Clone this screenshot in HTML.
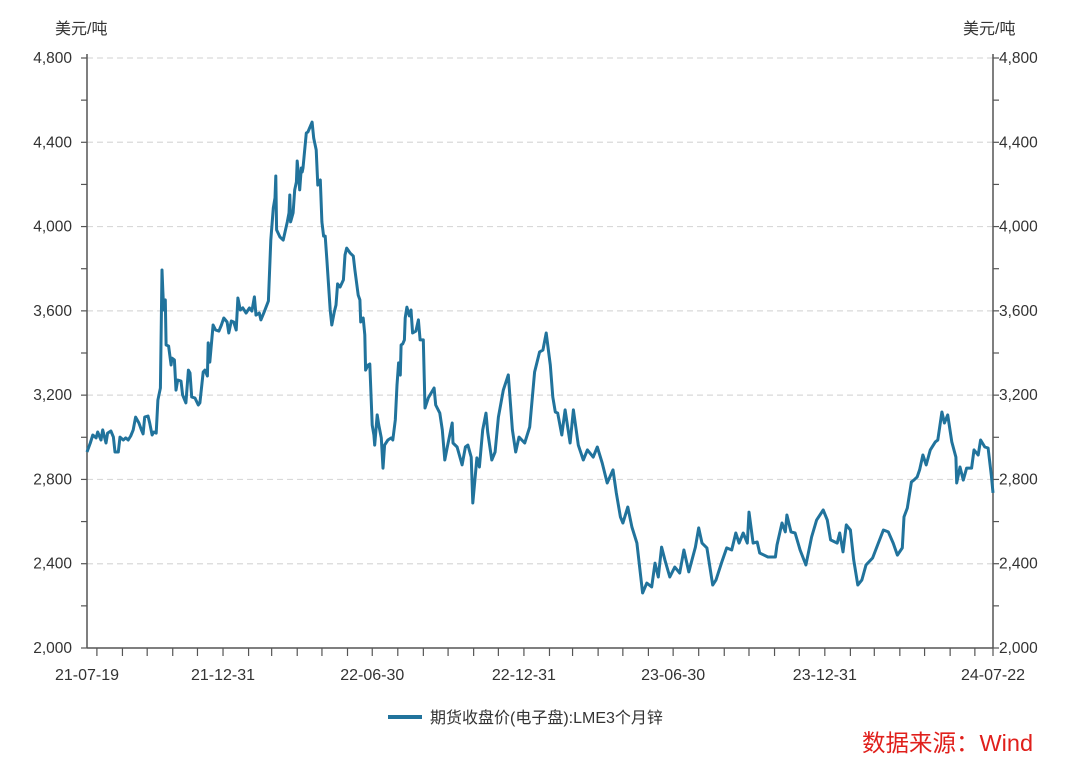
<!DOCTYPE html>
<html><head><meta charset="utf-8"><style>
body{margin:0;background:#fff;}
svg text{font-family:"Liberation Sans","Noto Sans CJK SC",sans-serif;}
</style></head><body>
<svg id="chart" width="1080" height="775" viewBox="0 0 1080 775" xmlns="http://www.w3.org/2000/svg">
<rect width="1080" height="775" fill="#fff"/>
<text x="55" y="34" font-size="16" fill="#333">美元/吨</text>
<text x="963" y="34" font-size="16" fill="#333">美元/吨</text>
<g id="grid"></g><g id="axes"></g><g id="series"></g>
<g>
<line x1="388" y1="717" x2="422" y2="717" stroke="#21739c" stroke-width="4"/>
<text x="430" y="723" font-size="16" fill="#333">期货收盘价(电子盘):LME3个月锌</text>
</g>
<text x="862" y="751" font-size="23.5" fill="#e0201c">数据来源：Wind</text>
</svg>
<script>
const days=[0,4,7,11,13,17,19,23,25,29,32,34,38,40,44,47,50,53,56,59,63,66,68,70,74,76,79,81,84,86,89,91,92,93,95,96,99,102,103,106,108,110,114,116,120,123,125,127,131,135,137,141,143,146,147,149,153,156,160,163,166,170,172,175,178,181,183,186,189,193,197,200,203,205,209,211,215,220,223,226,228,229,230,234,238,243,245,246,247,250,252,254,255,256,258,260,261,262,266,268,270,273,275,278,280,283,285,287,289,291,295,297,300,302,304,307,311,313,315,319,323,325,329,331,332,335,337,338,341,343,346,348,349,352,354,357,359,361,365,369,371,374,376,378,380,381,383,385,386,388,391,393,395,399,402,404,408,410,414,421,423,428,431,434,437,443,444,449,455,459,462,466,468,473,476,480,484,486,491,495,499,505,511,516,520,524,531,537,543,549,553,557,562,565,568,571,576,580,586,590,596,602,607,614,619,625,631,638,642,647,650,656,661,667,674,679,685,689,693,697,701,707,713,719,724,730,738,742,746,752,759,763,770,776,782,787,791,796,801,803,808,813,816,826,835,837,843,847,849,854,859,865,872,879,885,893,898,902,910,913,917,921,926,930,935,940,945,953,959,966,972,978,983,989,991,995,1000,1003,1007,1010,1014,1018,1023,1029,1032,1037,1040,1044,1049,1054,1055,1059,1063,1067,1073,1076,1081,1084,1089,1093,1097,1099];
const prices=[2930,2973,3011,2997,3025,2987,3035,2973,3020,3030,3001,2930,2930,3001,2987,2997,2987,3006,3035,3096,3068,3035,3016,3096,3101,3068,3011,3025,3020,3177,3234,3794,3699,3604,3652,3438,3433,3343,3376,3367,3224,3272,3267,3201,3163,3319,3305,3191,3186,3153,3163,3310,3319,3291,3448,3357,3533,3509,3504,3533,3566,3547,3495,3552,3547,3509,3661,3604,3614,3590,3614,3599,3666,3580,3590,3557,3595,3647,3936,4088,4136,4240,3984,3951,3936,4022,4065,4150,4022,4065,4174,4212,4311,4269,4174,4278,4259,4278,4444,4449,4468,4496,4420,4364,4197,4221,4022,3955,3955,3841,3604,3533,3595,3628,3728,3713,3747,3865,3898,3875,3860,3794,3675,3652,3547,3566,3486,3319,3343,3348,3058,3011,2963,3106,3058,2997,2854,2963,2987,2997,2987,3082,3248,3353,3295,3438,3443,3462,3566,3618,3576,3604,3495,3504,3557,3462,3462,3139,3187,3234,3153,3115,3035,2892,2954,3068,2973,2954,2869,2954,2963,2906,2688,2902,2859,3035,3115,3025,2892,2930,3096,3224,3296,3035,2930,3001,2973,3049,3310,3405,3414,3495,3343,3191,3120,3115,3011,3130,2973,3130,2963,2892,2940,2906,2954,2878,2783,2845,2736,2622,2593,2669,2574,2498,2261,2308,2290,2403,2337,2479,2418,2337,2384,2356,2465,2361,2479,2570,2498,2475,2299,2323,2408,2475,2465,2546,2498,2546,2498,2645,2498,2503,2451,2432,2432,2489,2593,2551,2631,2551,2546,2465,2394,2527,2607,2655,2607,2513,2498,2546,2456,2584,2560,2418,2299,2323,2394,2427,2489,2560,2551,2498,2441,2475,2622,2664,2788,2797,2812,2845,2916,2869,2940,2978,2987,3120,3068,3106,2978,2906,2783,2859,2797,2854,2854,2940,2916,2987,2954,2949,2816,2736];
const xTickDays=[0,165,346,530,711,895,1099];
const xTickLabels=["21-07-19","21-12-31","22-06-30","22-12-31","23-06-30","23-12-31","24-07-22"];
const minorTickDays=[12,43,73,104,134,165,196,224,255,285,316,346,377,408,438,469,499,530,561,589,620,650,681,711,742,773,803,834,864,895,926,955,986,1016,1047,1077,1099];
const yTicks=[2000,2400,2800,3200,3600,4000,4400,4800];
const yMinor=[2000,2200,2400,2600,2800,3000,3200,3400,3600,3800,4000,4200,4400,4600,4800];

const X0=87,X1=993,Y0=648,Y1=58,DMAX=1099,VMIN=2000,VMAX=4800;
const xs=d=>X0+(d/DMAX)*(X1-X0);
const ys=v=>Y0-(v-VMIN)/(VMAX-VMIN)*(Y0-Y1);
const NS="http://www.w3.org/2000/svg";
function mk(tag,attrs,parent){const e=document.createElementNS(NS,tag);for(const k in attrs)e.setAttribute(k,attrs[k]);parent.appendChild(e);return e;}
const grid=document.getElementById('grid'),axes=document.getElementById('axes'),series=document.getElementById('series');
yTicks.forEach(v=>{
  if(v!==VMIN){const g=mk('line',{x1:X0,x2:X1,y1:ys(v),y2:ys(v),stroke:'#d9d9d9','stroke-width':1.2,'stroke-dasharray':'6,4'},grid);
  
  }
  const t=mk('text',{x:72,y:ys(v)+5,'text-anchor':'end','font-size':15.5,fill:'#333'},axes);t.textContent=v.toLocaleString('en-US');
  
  
  const t2=mk('text',{x:999,y:ys(v)+5,'font-size':15.5,fill:'#333'},axes);t2.textContent=v.toLocaleString('en-US');
  
  
});
yMinor.forEach(v=>{
  mk('line',{x1:X0-6,x2:X0,y1:ys(v),y2:ys(v),stroke:'#555','stroke-width':1.2},axes);
  mk('line',{x1:X1,x2:X1+6,y1:ys(v),y2:ys(v),stroke:'#555','stroke-width':1.2},axes);
});
const la=mk('line',{x1:X0,x2:X0,y1:Y1-4,y2:Y0,stroke:'#555','stroke-width':1.5},axes);


const ra=mk('line',{x1:X1,x2:X1,y1:Y1-4,y2:Y0,stroke:'#555','stroke-width':1.5},axes);


const xa=mk('line',{x1:X0,x2:X1,y1:Y0,y2:Y0,stroke:'#555','stroke-width':1.5},axes);


minorTickDays.forEach(d=>{mk('line',{x1:xs(d),x2:xs(d),y1:Y0,y2:Y0+8,stroke:'#555','stroke-width':1.2},axes);});
xTickDays.forEach((d,i)=>{
  const t=mk('text',{x:xs(d),y:680,'text-anchor':'middle','font-size':16,fill:'#333'},axes);t.textContent=xTickLabels[i];
  
  
});
const p=mk('path',{d:days.map((d,i)=>(i?'L':'M')+xs(d).toFixed(1)+','+ys(prices[i]).toFixed(1)).join(''),fill:'none',stroke:'#21739c','stroke-width':3,'stroke-linejoin':'round'},series);


</script>
</body></html>
